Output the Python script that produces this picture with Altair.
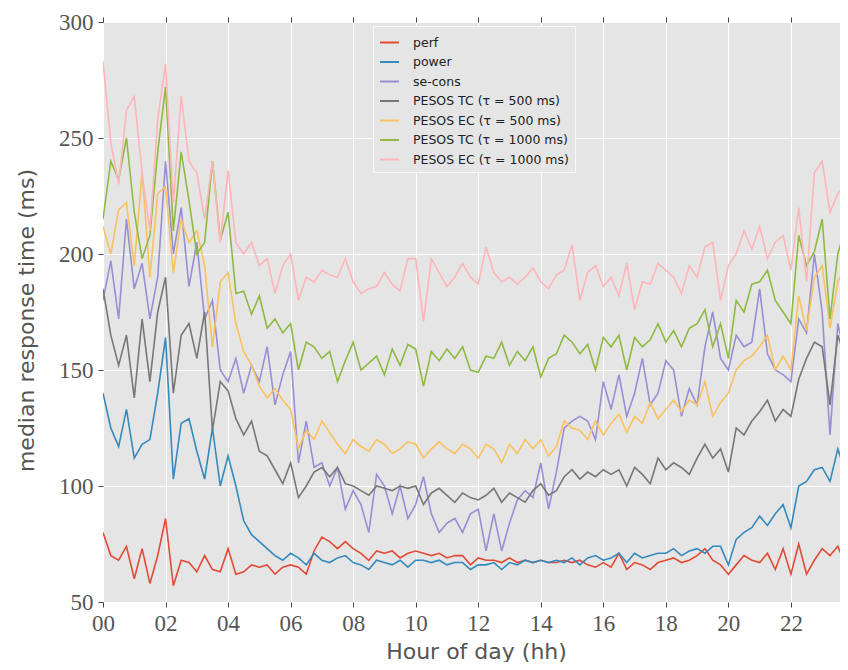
import altair as alt
import pandas as pd

# time axis: one sample every 15 minutes
HOURS = [i * 0.25 for i in range(96)]

SERIES = ["perf", "power", "se-cons",
          "PESOS TC (τ = 500 ms)", "PESOS EC (τ = 500 ms)",
          "PESOS TC (τ = 1000 ms)", "PESOS EC (τ = 1000 ms)"]
COLORS = ["#E24A33", "#348ABD", "#988ED5", "#777777", "#FBC15E", "#8EBA42", "#FFB5B8"]

perf = [80, 70, 68, 74, 60, 73, 58, 70, 86, 57, 68, 67, 63, 70, 64, 63, 73, 62, 63, 66, 65, 66, 62, 65,
        66, 65, 62, 72, 78, 76, 73, 76, 73, 71, 68, 72, 71, 72, 69, 71, 72, 71, 70, 71, 69, 70, 70, 66,
        69, 68, 68, 67, 69, 67, 68, 67, 68, 67, 67, 68, 67, 68, 66, 65, 67, 65, 71, 64, 67, 66, 64, 67,
        68, 69, 67, 68, 70, 73, 68, 66, 62, 66, 70, 68, 67, 71, 64, 73, 62, 75, 62, 68, 73, 70, 74, 66]

power = [140, 125, 117, 133, 112, 118, 120, 140, 164, 103, 127, 129, 115, 103, 125, 100, 113, 100, 85, 79, 76, 73, 70, 68,
         71, 69, 66, 71, 68, 67, 69, 70, 67, 66, 64, 68, 67, 66, 68, 65, 68, 68, 67, 68, 66, 67, 67, 64,
         66, 66, 67, 64, 67, 66, 68, 67, 68, 67, 68, 67, 69, 66, 69, 70, 68, 69, 71, 67, 71, 69, 70, 71,
         71, 73, 70, 72, 73, 71, 74, 74, 66, 77, 80, 82, 87, 83, 88, 92, 82, 100, 102, 107, 108, 102, 116, 106]

secons = [180, 197, 172, 215, 185, 196, 172, 190, 240, 200, 220, 186, 205, 172, 180, 150, 145, 155, 140, 152, 145, 160, 135, 148,
          158, 110, 128, 108, 110, 100, 108, 90, 98, 92, 80, 105, 100, 88, 100, 86, 92, 104, 88, 80, 84, 86, 80, 88,
          90, 72, 88, 72, 84, 94, 98, 95, 110, 90, 106, 125, 128, 130, 128, 120, 145, 133, 148, 130, 140, 155, 135, 140,
          154, 150, 130, 142, 135, 160, 175, 155, 150, 165, 160, 162, 185, 157, 150, 148, 145, 172, 166, 200, 175, 122, 170, 155]

tc500 = [185, 165, 152, 165, 138, 172, 145, 175, 190, 140, 165, 170, 155, 175, 124, 145, 141, 129, 122, 128, 115, 113, 107, 101,
         110, 95, 100, 106, 108, 104, 108, 101, 100, 98, 96, 100, 99, 98, 100, 99, 100, 92, 97, 99, 96, 93, 97, 95,
         94, 96, 99, 93, 97, 95, 93, 98, 101, 96, 98, 104, 107, 103, 106, 104, 107, 105, 107, 100, 108, 105, 101, 112,
         107, 110, 108, 105, 112, 118, 112, 116, 106, 125, 122, 128, 132, 137, 128, 133, 130, 146, 155, 162, 160, 135, 165, 155]

ec500 = [212, 200, 219, 222, 195, 235, 190, 226, 229, 192, 215, 205, 210, 195, 160, 188, 192, 170, 158, 152, 143, 138, 142, 137,
         133, 116, 124, 120, 128, 123, 118, 114, 120, 117, 115, 120, 118, 114, 116, 119, 118, 112, 116, 119, 116, 114, 118, 116,
         112, 118, 116, 110, 118, 114, 120, 116, 120, 113, 117, 128, 125, 124, 120, 128, 122, 127, 131, 123, 130, 127, 136, 129,
         133, 137, 132, 137, 135, 145, 130, 136, 140, 150, 154, 156, 160, 165, 150, 156, 150, 182, 167, 190, 195, 168, 188, 195]

tc1000 = [215, 240, 232, 250, 218, 198, 208, 244, 272, 210, 244, 223, 200, 205, 240, 206, 218, 183, 184, 174, 182, 168, 172, 166,
          170, 150, 162, 160, 155, 158, 145, 154, 162, 150, 153, 156, 148, 159, 152, 161, 159, 143, 158, 154, 159, 155, 160, 150,
          149, 156, 155, 162, 152, 158, 154, 160, 147, 155, 157, 165, 162, 157, 161, 150, 164, 160, 165, 150, 164, 160, 163, 170,
          162, 167, 160, 168, 170, 176, 160, 170, 155, 180, 175, 187, 188, 193, 180, 175, 170, 208, 195, 201, 215, 172, 200, 212]

ec1000 = [283, 248, 230, 262, 268, 235, 210, 258, 282, 222, 268, 240, 235, 215, 240, 205, 236, 205, 200, 205, 195, 198, 183, 195,
          200, 180, 190, 188, 193, 191, 190, 198, 188, 183, 185, 186, 192, 187, 184, 198, 198, 171, 198, 192, 186, 190, 196, 190,
          187, 203, 192, 188, 190, 187, 190, 194, 188, 185, 191, 193, 204, 180, 192, 195, 186, 190, 182, 196, 176, 188, 187, 196,
          193, 190, 183, 195, 190, 203, 205, 180, 195, 200, 210, 202, 212, 198, 205, 208, 193, 220, 188, 235, 240, 218, 226, 230]

X_TICKS = list(range(0, 24, 2))
Y_TICKS = [50, 100, 150, 200, 250, 300]

rows = []
for name, vals in zip(SERIES, [perf, power, secons, tc500, ec500, tc1000, ec1000]):
    for h, v in zip(HOURS, vals):
        rows.append({"hour": h, "ms": v, "series": name})
df = pd.DataFrame(rows)

xscale = alt.Scale(domain=[0, 23.57], nice=False, zero=False)
yscale = alt.Scale(domain=[50, 300], nice=False, zero=False)

lines = alt.Chart(df).mark_line(strokeWidth=1.6, clip=True).encode(
    x=alt.X("hour:Q", scale=xscale,
            axis=alt.Axis(values=X_TICKS, title="Hour of day (hh)", labelFlush=False,
                          labelExpr="datum.value < 10 ? '0' + datum.value : '' + datum.value",
                          titleX=373, titlePadding=6)),
    y=alt.Y("ms:Q", scale=yscale,
            axis=alt.Axis(values=Y_TICKS, title="median response time (ms)", titleY=298,
                          labelFlush=False, titlePadding=20)),
    color=alt.Color("series:N",
                    scale=alt.Scale(domain=SERIES, range=COLORS),
                    legend=alt.Legend(title=None, orient="none", legendX=270, legendY=4,
                                      symbolType="stroke", symbolStrokeWidth=2, symbolSize=360,
                                      labelFont="DejaVu Sans", labelFontSize=12.5, labelColor="#222222",
                                      labelLimit=300, fillColor="#E5E5E5", strokeColor="#F8F8F8",
                                      padding=6, rowPadding=2.5, labelOffset=13)),
    detail="series:N",
)

top = alt.Chart(df).mark_line(opacity=0).encode(
    x=alt.X("hour:Q", scale=xscale,
            axis=alt.Axis(orient="top", values=X_TICKS, labels=False, grid=False, title=None)),
    y=alt.value(0),
)

chart = alt.layer(lines, top).resolve_axis(x="independent").properties(
    width=737, height=580,
    autosize=alt.AutoSizeParams(type="none"),
    padding={"left": 95, "top": 14, "right": 0, "bottom": 60},
).configure_view(fill="#E5E5E5", stroke=None).configure_axis(
    domain=False,
    tickColor="#444444", tickSize=5, tickWidth=1,
    labelFont="Liberation Serif", labelFontSize=23, labelColor="#555555", labelPadding=5,
    titleFont="DejaVu Sans", titleFontSize=22, titleColor="#555555", titleFontWeight="normal",
    gridColor="#FFFFFF", gridWidth=1,
)

chart.save("out.html", embed_options={"renderer": "svg", "actions": False})
